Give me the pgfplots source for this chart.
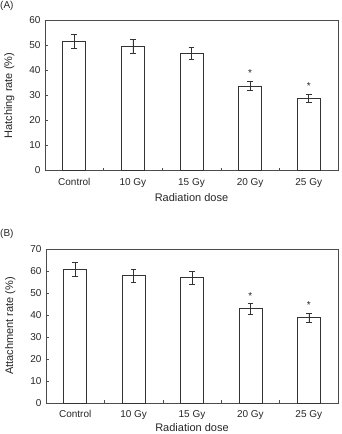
\documentclass[border=0pt]{standalone}
\usepackage{fontspec}
\setmainfont{Liberation Sans}
\usepackage{pgfplots}
\pgfplotsset{compat=1.18}
\begin{document}
\begin{tikzpicture}
\useasboundingbox (0pt,0pt) rectangle (342pt,-434pt);
\pgfplotsset{
 panel/.style={
  scale only axis, width=293pt,
  xmin=-0.5, xmax=4.5, ymin=0,
  xtick={0,1,2,3,4}, xticklabels={Control,10 Gy,15 Gy,20 Gy,25 Gy},
  major x tick style={draw=none},
  minor xtick={0.5,1.5,2.5,3.5},
  minor tick length=3pt, major tick length=3pt,
  tick align=inside, tick pos=left,
  axis line style={black!70, line width=0.6pt},
  tick style={black!70, line width=0.6pt},
  /pgf/number format/assume math mode=true,
  ticklabel style={font=\fontsize{10}{12}\selectfont, text=black!85},
  label style={font=\fontsize{11}{13}\selectfont, text=black!85},
  xticklabel style={yshift=-4pt},
  yticklabel style={xshift=-1pt},
  xlabel={Radiation dose},
  xlabel style={yshift=0pt},
  ylabel style={yshift=8pt},
 },
 mybar/.style={ybar, bar width=23pt, fill=white, draw=black!80, line width=0.8pt,
  error bars/.cd, y dir=both, y explicit,
  error bar style={black!80, line width=0.6pt},
  error mark options={rotate=90, mark size=2.8pt, black!80, line width=0.6pt}},
 star/.style={draw=none, mark=none, nodes near coords={*},
  every node near coord/.style={font=\fontsize{10}{11}\selectfont, text=black!85, anchor=south, yshift=0pt}},
}
\node[anchor=north west, inner sep=0pt, font=\fontsize{10}{12}\selectfont, text=black!85] at (0pt,-1pt) {(A)};
\begin{axis}[panel, at={(45pt,-170.5pt)}, anchor=south west, height=150pt,
  ymax=60, ytick={0,10,...,60}, ylabel={Hatching rate (\%)}]
\addplot[mybar] coordinates {
 (0,51.7) +- (0,2.8)
 (1,49.7) +- (0,2.7)
 (2,46.8) +- (0,2.5)
 (3,33.8) +- (0,1.8)
 (4,28.9) +- (0,1.6)
};
\addplot[star] coordinates {(3,36.2) (4,31.0)};
\end{axis}
\node[anchor=north west, inner sep=0pt, font=\fontsize{10}{12}\selectfont, text=black!85] at (0pt,-229pt) {(B)};
\begin{axis}[panel, at={(46pt,-403pt)}, anchor=south west, height=154pt, width=292pt,
  ymax=70, ytick={0,10,...,70}, ylabel={Attachment rate (\%)},
  xlabel style={yshift=3pt}]
\addplot[mybar] coordinates {
 (0,60.7) +- (0,3.3)
 (1,57.8) +- (0,3.0)
 (2,56.9) +- (0,3.0)
 (3,42.8) +- (0,2.3)
 (4,38.8) +- (0,2.1)
};
\addplot[star] coordinates {(3,45.6) (4,41.5)};
\end{axis}
\end{tikzpicture}
\end{document}
